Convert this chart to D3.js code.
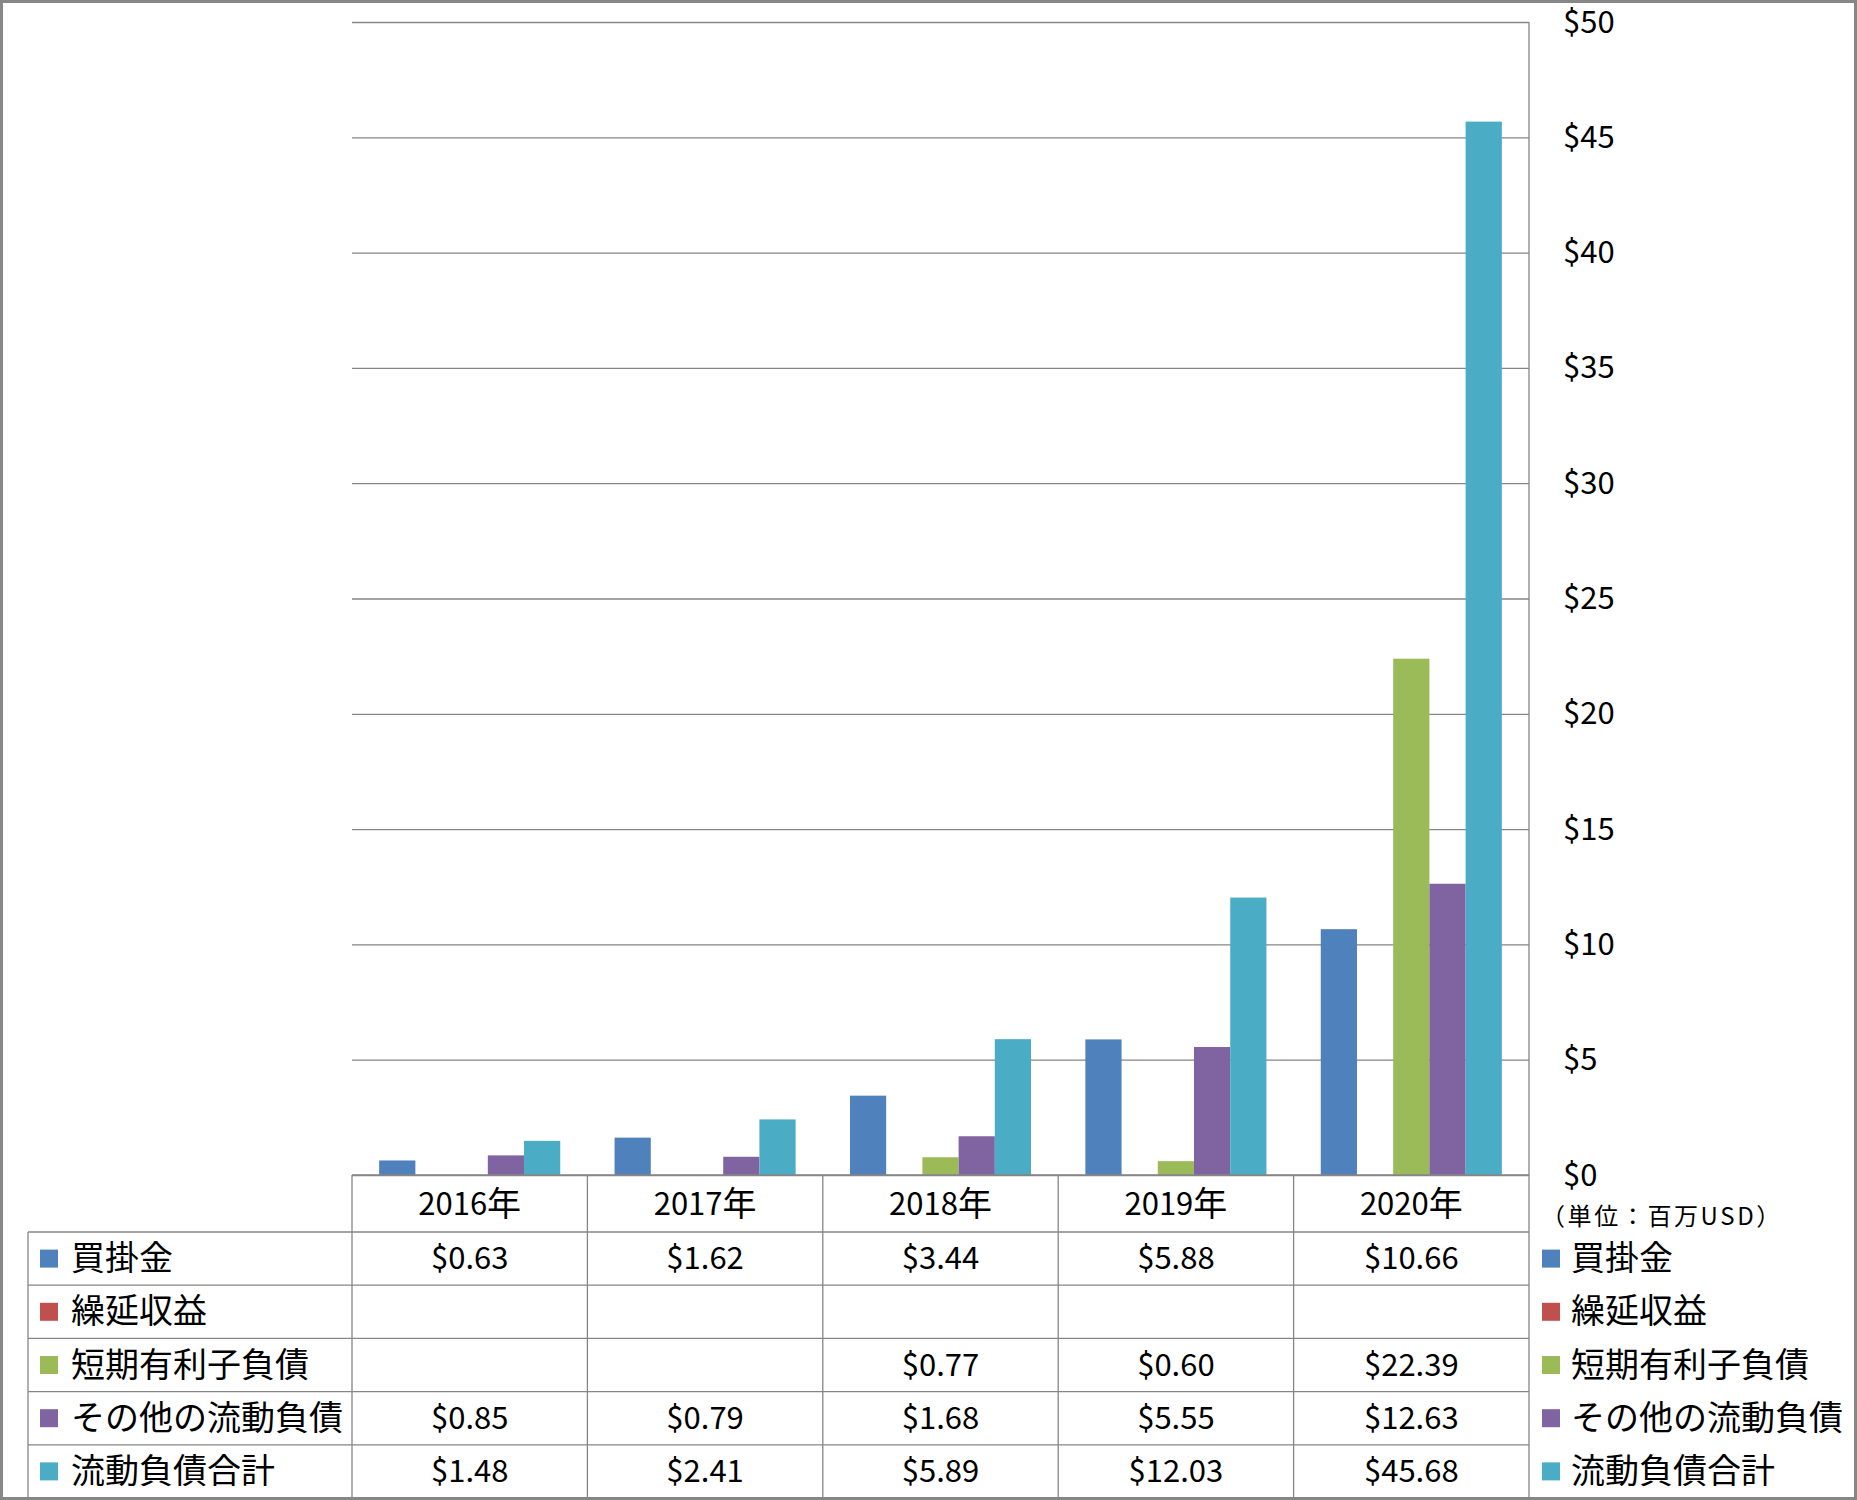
<!DOCTYPE html>
<html><head><meta charset="utf-8">
<script src="https://cdn.jsdelivr.net/npm/d3@7"></script>
<style>
html,body{margin:0;padding:0;background:#fff;}
svg{display:block;}
text{font-family:"Noto Sans CJK JP","Noto Sans",sans-serif;fill:#000;}
</style></head>
<body>
<svg id="chart" width="1857" height="1500"></svg>
<script>
const years = ["2016","2017","2018","2019","2020"];
const yearSuffix = "年";
const seriesNames = ["買掛金","繰延収益","短期有利子負債","その他の流動負債","流動負債合計"];
const seriesColors = ["#4F81BD","#C0504D","#9BBB59","#8064A2","#4BACC6"];
const accountsPayable = [0.63,1.62,3.44,5.88,10.66];
const deferredRevenue = [null,null,null,null,null];
const shortTermDebt = [null,null,0.77,0.60,22.39];
const otherCurrent = [0.85,0.79,1.68,5.55,12.63];
const totalCurrent = [1.48,2.41,5.89,12.03,45.68];
const seriesValues = [accountsPayable,deferredRevenue,shortTermDebt,otherCurrent,totalCurrent];
const yTicks = [0,5,10,15,20,25,30,35,40,45,50];
const unitLabel = "（単位：百万USD）";

const svg = d3.select("#chart");
const L = 352, R = 1529, T = 22, B = 1175;
const tableLeft = 28, headerBottom = 1232, tableBottom = 1498;
const gridColor = "#868686";
const textShift = -3;

const x0 = d3.scaleBand().domain(years).range([L,R]).paddingInner(0).paddingOuter(0);
const x1 = d3.scaleBand().domain(seriesNames).range([0,x0.bandwidth()]).paddingInner(0).paddingOuter(0.75);
const y = d3.scaleLinear().domain([0,50]).range([B,T]);
const rowY = d3.scaleBand().domain(seriesNames).range([headerBottom,tableBottom]);

// outer frame
svg.append("rect").attr("x",1.5).attr("y",1.5).attr("width",1854).attr("height",1497)
  .attr("fill","#fff").attr("stroke","#878787").attr("stroke-width",3);

// gridlines
const grid = svg.append("g").attr("transform",`translate(${L},0)`)
  .call(d3.axisRight(y).tickValues(yTicks).tickSize(R-L).tickFormat(""));
grid.select(".domain").remove();
grid.selectAll(".tick line").attr("stroke",gridColor).attr("stroke-width",1.3);

// y labels
const yl = svg.append("g").attr("transform",`translate(${R},0)`)
  .call(d3.axisRight(y).tickValues(yTicks).tickSize(0).tickPadding(34).tickFormat(d=>"$"+d));
yl.select(".domain").remove();
yl.selectAll("text").attr("font-size",31).attr("font-family",'"Noto Sans CJK JP",sans-serif')
  .attr("fill","#000").attr("dy",null).attr("dominant-baseline","central").attr("y",-3.5);

// bars
const data = [];
seriesNames.forEach((s,si)=>{
  years.forEach((yr,yi)=>{
    const v = seriesValues[si][yi];
    if (v!=null) data.push({s, yr, v, c: seriesColors[si]});
  });
});
svg.append("g").selectAll("rect").data(data).join("rect")
  .attr("x",d=>x0(d.yr)+x1(d.s))
  .attr("width",x1.bandwidth())
  .attr("y",d=>y(d.v))
  .attr("height",d=>y(0)-y(d.v))
  .attr("fill",d=>d.c);

// table lines
const tl = svg.append("g").attr("stroke",gridColor).attr("stroke-width",1.3);
tl.append("line").attr("x1",L).attr("x2",R).attr("y1",B).attr("y2",B);
seriesNames.forEach(s=>{
  tl.append("line").attr("x1",tableLeft).attr("x2",R).attr("y1",rowY(s)).attr("y2",rowY(s));
});
tl.append("line").attr("x1",tableLeft).attr("x2",R).attr("y1",tableBottom).attr("y2",tableBottom);
tl.append("line").attr("x1",tableLeft).attr("x2",tableLeft).attr("y1",headerBottom).attr("y2",tableBottom);
years.forEach(yr=>{
  tl.append("line").attr("x1",x0(yr)).attr("x2",x0(yr)).attr("y1",B).attr("y2",tableBottom);
});
tl.append("line").attr("x1",R).attr("x2",R).attr("y1",T).attr("y2",tableBottom);

// year header
const yh = svg.append("g").selectAll("text").data(years).join("text")
  .attr("x",d=>x0(d)+x0.bandwidth()/2).attr("y",(B+headerBottom)/2+textShift)
  .attr("text-anchor","middle").attr("dominant-baseline","central");
yh.append("tspan").attr("font-size",31).text(d=>d);
yh.append("tspan").attr("font-size",34).text(yearSuffix);

// row headers + values
seriesNames.forEach((s,si)=>{
  const cy = rowY(s)+rowY.bandwidth()/2;
  svg.append("rect").attr("x",40).attr("y",cy-9).attr("width",18).attr("height",18).attr("fill",seriesColors[si]);
  svg.append("text").attr("x",71).attr("y",cy+textShift).attr("dominant-baseline","central")
    .attr("font-size",34).text(s);
  // right legend
  svg.append("rect").attr("x",1542).attr("y",cy-9).attr("width",18).attr("height",18).attr("fill",seriesColors[si]);
  svg.append("text").attr("x",1571).attr("y",cy+textShift).attr("dominant-baseline","central")
    .attr("font-size",34).text(s);
  years.forEach((yr,yi)=>{
    const v = seriesValues[si][yi];
    if (v==null) return;
    svg.append("text").attr("x",x0(yr)+x0.bandwidth()/2).attr("y",cy+textShift)
      .attr("text-anchor","middle").attr("dominant-baseline","central")
      .attr("font-size",31).text("$"+v.toFixed(2));
  });
});

// unit label
svg.append("text").attr("x",1541).attr("y",1214).attr("dominant-baseline","central")
  .attr("font-size",24).attr("letter-spacing",2.6).text(unitLabel);
</script>
</body></html>
